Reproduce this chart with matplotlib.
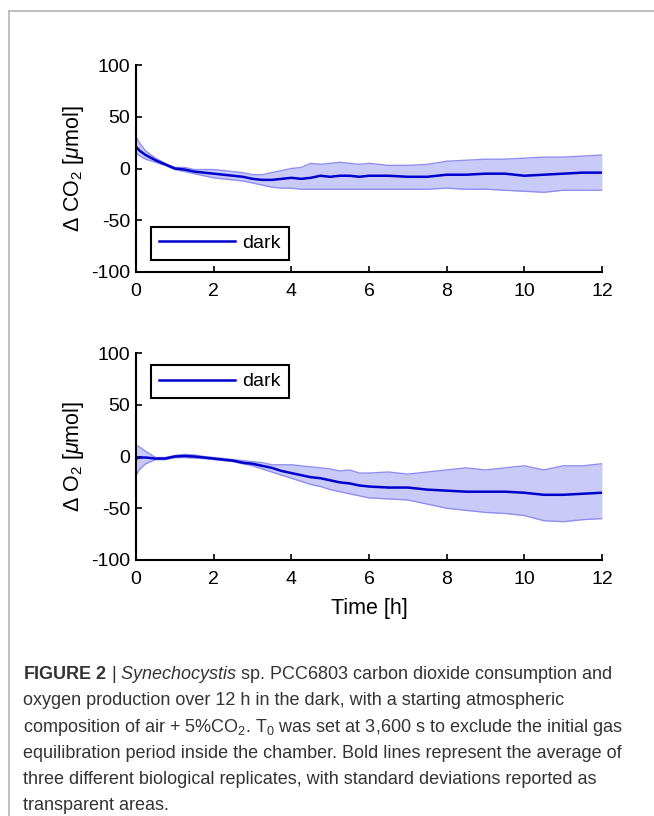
import matplotlib
matplotlib.use("Agg")
import matplotlib.pyplot as plt
from matplotlib.lines import Line2D

plt.rcParams['font.family'] = ['Liberation Sans', 'DejaVu Sans']
plt.rcParams['mathtext.fontset'] = 'custom'
plt.rcParams['mathtext.rm'] = 'Liberation Sans'
plt.rcParams['mathtext.it'] = 'Liberation Sans:italic'
plt.rcParams['mathtext.bf'] = 'Liberation Sans:bold'
plt.rcParams['axes.unicode_minus'] = False

# time grid [h]
time_h = [0, 0.1, 0.25, 0.5, 0.75, 1, 1.25, 1.5, 1.75, 2, 2.25, 2.5, 2.75, 3, 3.25,
          3.5, 3.75, 4, 4.25, 4.5, 4.75, 5, 5.25, 5.5, 5.75, 6, 6.5, 7, 7.5, 8,
          8.5, 9, 9.5, 10, 10.5, 11, 11.5, 12]

# delta CO2 [umol]
co2_mean = [21, 17, 13, 8, 4, 0, -1, -3, -4, -5, -6, -7, -8, -10, -11,
            -11, -10, -9, -10, -9, -7, -8, -7, -7, -8, -7, -7, -8, -8, -6,
            -6, -5, -5, -7, -6, -5, -4, -4]
co2_upper = [31, 24, 17, 10, 5, 1, 1, -1, -1, -1, -2, -3, -4, -6, -6,
             -4, -2, 0, 1, 5, 4, 5, 6, 5, 4, 5, 3, 3, 4, 7,
             8, 9, 9, 10, 11, 11, 12, 13]
co2_lower = [15, 12, 9, 6, 3, -1, -3, -5, -7, -9, -10, -11, -12, -14, -16,
             -18, -19, -19, -20, -20, -20, -20, -20, -20, -20, -20, -20, -20, -20, -19,
             -20, -20, -21, -22, -23, -21, -21, -21]

# delta O2 [umol]
o2_mean = [-2, -1, -1, -2, -2, 0, 0.5, 0, -1, -2, -3, -4, -6, -7, -9,
           -11, -14, -16, -18, -20, -21, -23, -25, -26, -28, -29, -30, -30, -32, -33,
           -34, -34, -34, -35, -37, -37, -36, -35]
o2_upper = [11, 9, 5, -1, -1, 1, 2, 1.5, 0, -1, -2, -3, -4, -5, -6,
            -8, -8, -8, -9, -10, -11, -12, -14, -13, -16, -16, -15, -17, -15, -13,
            -11, -13, -11, -9, -13, -9, -9, -7]
o2_lower = [-18, -12, -7, -3, -3, -1, -1, -1.5, -2, -3, -4, -5, -7, -9, -12,
            -15, -18, -21, -24, -27, -29, -32, -34, -36, -38, -40, -41, -42, -46, -50,
            -52, -54, -55, -57, -62, -63, -61, -60]

x_ticks = [0, 2, 4, 6, 8, 10, 12]
y_ticks = [-100, -50, 0, 50, 100]

caption_lines = [
    r'$\mathbf{FIGURE\ 2}$ | $\mathit{Synechocystis}$ sp. PCC6803 carbon dioxide consumption and',
    'oxygen production over 12 h in the dark, with a starting atmospheric',
    r'composition of air + 5%CO$_2$. T$_0$ was set at 3,600 s to exclude the initial gas',
    'equilibration period inside the chamber. Bold lines represent the average of',
    'three different biological replicates, with standard deviations reported as',
    'transparent areas.',
]

line_col = '#0000cc'
band_col = '#cacaf9'
edge_col = '#8f8ff0'

fig = plt.figure(figsize=(6.54, 8.16), dpi=100)

# page frame (left and top grey rules)
fig.add_artist(Line2D([9/654, 9/654], [0, 1 - 11/816], transform=fig.transFigure,
                      color='#b4b4b4', lw=1.2))
fig.add_artist(Line2D([9/654, 1], [1 - 11/816, 1 - 11/816], transform=fig.transFigure,
                      color='#b4b4b4', lw=1.2))

ax1 = fig.add_axes([136/654, 1 - 272/816, 466/654, 207/816])
ax2 = fig.add_axes([136/654, 1 - 560/816, 466/654, 207/816])

panels = [
    (ax1, co2_mean, co2_upper, co2_lower, r'$\Delta$ CO$_2$ [$\mu$mol]', 'lower left', (0.032, 0.058)),
    (ax2, o2_mean, o2_upper, o2_lower, r'$\Delta$ O$_2$ [$\mu$mol]', 'upper left', (0.032, 0.942)),
]

for ax, mean, upper, lower, ylab, loc, anchor in panels:
    ax.fill_between(time_h, lower, upper, color=band_col, lw=0)
    ax.plot(time_h, upper, color=edge_col, lw=1.0)
    ax.plot(time_h, lower, color=edge_col, lw=1.0)
    ax.plot(time_h, mean, color=line_col, lw=1.8, label='dark')

    ax.set_xlim(0, 12)
    ax.set_ylim(-100, 100)
    ax.set_xticks(x_ticks)
    ax.set_yticks(y_ticks)
    ax.spines['top'].set_visible(False)
    ax.spines['right'].set_visible(False)
    for s in ['left', 'bottom']:
        ax.spines[s].set_linewidth(1.5)
    ax.tick_params(direction='in', length=4.5, width=1.2, labelsize=14, pad=4)
    ax.tick_params(axis='x', pad=8)
    ax.set_ylabel(ylab, fontsize=15.5, labelpad=4)

    leg = ax.legend(loc=loc, bbox_to_anchor=anchor, borderaxespad=0, fontsize=14,
                    handlelength=3.9, handletextpad=0.4, fancybox=False,
                    edgecolor='black', framealpha=1)
    leg.get_frame().set_linewidth(1.5)

ax2.set_xlabel('Time [h]', fontsize=15.5, labelpad=7)

# caption, one text per line so the pitch stays even
for i, txt in enumerate(caption_lines):
    fig.text(23/654, 1 - (679 + 26.3 * i)/816, txt, ha='left', va='baseline',
             fontsize=13, color='#333333')

fig.savefig('out.png', dpi=100)
